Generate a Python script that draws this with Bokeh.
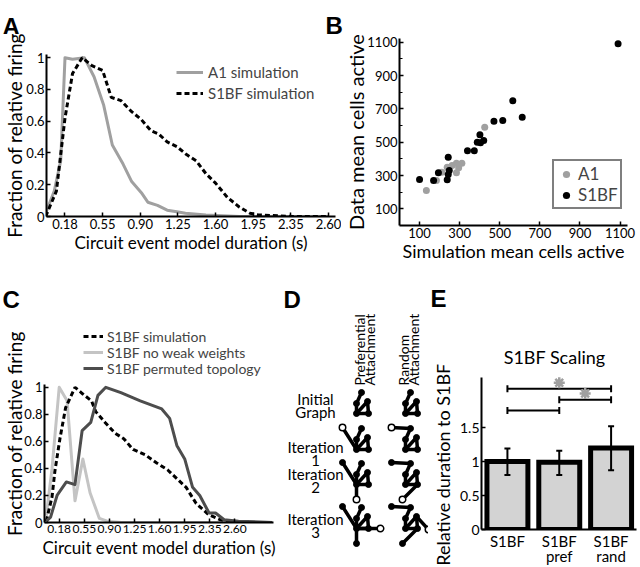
import math
from bokeh.plotting import figure
from bokeh.models import Range1d, FixedTicker, Legend, LegendItem
from bokeh.layouts import row, column
from bokeh.embed import file_html
from bokeh.resources import INLINE
from bokeh.core.properties import value

FONT = "Lato"
LETTER_FONT = "Liberation Sans"
NBSP = "\u00a0"

# ---------------- Panel A data ----------------
a1_dur = [0.00, 0.08, 0.14, 0.18, 0.25, 0.36, 0.45, 0.54, 0.62, 0.72, 0.80, 0.89, 0.95,
          1.04, 1.13, 1.22, 1.30, 1.49, 1.80, 2.20, 2.63]
a1_frac = [0.02, 0.16, 0.35, 1.00, 0.99, 1.00, 0.88, 0.70, 0.45, 0.33, 0.22, 0.15, 0.09,
           0.07, 0.04, 0.03, 0.02, 0.01, 0.00, 0.00, 0.00]
s1_dur = [0.00, 0.10, 0.18, 0.25, 0.34, 0.43, 0.53, 0.61, 0.70, 0.80, 0.89, 0.98, 1.05,
          1.13, 1.22, 1.31, 1.40, 1.49, 1.58, 1.69, 1.80, 1.90, 1.98, 2.30, 2.63]
s1_frac = [0.00, 0.16, 0.62, 0.90, 1.00, 0.95, 0.92, 0.75, 0.73, 0.66, 0.61, 0.54, 0.52,
           0.47, 0.44, 0.39, 0.35, 0.27, 0.21, 0.12, 0.06, 0.02, 0.01, 0.00, 0.00]

dur_ticks = [0.18, 0.53, 0.88, 1.23, 1.58, 1.93, 2.28, 2.63]
dur_labels = ["0.18", "0.55", "0.90", "1.25", "1.60", "1.95", "2.35", "2.60"]
frac_ticks = [0, 0.2, 0.4, 0.6, 0.8, 1.0]
frac_labels = ["0", "0.2", "0.4", "0.6", "0.8", "1"]

# ---------------- Panel B data ----------------
b_a1_sim = [134, 184, 211, 238, 262, 284, 284, 295, 311, 425]
b_a1_data = [210, 270, 320, 350, 360, 374, 316, 346, 374, 590]
b_s1_sim = [100, 170, 194, 238, 243, 248, 243, 339, 373, 388, 404, 401, 420, 471, 515,
            565, 612, 1090]
b_s1_data = [276, 270, 316, 274, 306, 330, 410, 448, 448, 500, 496, 544, 510, 626, 630,
             748, 650, 1090]
b_major = [100, 300, 500, 700, 900, 1100]
b_minor = [200, 400, 600, 800, 1000]

# ---------------- Panel C data ----------------
c_sim_dur = [0.00, 0.08, 0.12, 0.19, 0.27, 0.40, 0.51, 0.63, 0.69, 0.82, 0.96, 1.08, 1.21,
             1.38, 1.54, 1.69, 1.85, 1.95, 2.09, 2.26, 2.43, 2.60, 3.15]
c_sim_frac = [0.01, 0.19, 0.38, 0.62, 0.85, 1.00, 0.95, 0.90, 0.82, 0.74, 0.66, 0.62, 0.54,
              0.50, 0.44, 0.39, 0.31, 0.26, 0.14, 0.06, 0.02, 0.00, 0.00]
c_now_dur = [0.00, 0.08, 0.18, 0.29, 0.40, 0.51, 0.61, 0.74, 0.85, 1.05, 3.15]
c_now_frac = [0.05, 0.40, 1.00, 0.90, 0.16, 0.47, 0.22, 0.03, 0.01, 0.00, 0.00]
c_perm_dur = [0.00, 0.06, 0.15, 0.28, 0.40, 0.50, 0.62, 0.72, 0.83, 1.04, 1.31, 1.61, 1.72,
              1.82, 1.93, 2.04, 2.14, 2.27, 2.36, 2.48, 2.68, 3.15]
c_perm_frac = [0.01, 0.04, 0.20, 0.30, 0.28, 0.68, 0.74, 0.94, 1.00, 0.96, 0.90, 0.84, 0.77,
               0.57, 0.47, 0.26, 0.20, 0.07, 0.07, 0.02, 0.01, 0.00]

# ---------------- Panel D (schematic) data ----------------
row_label_top = ["Initial", "Iteration", "Iteration", "Iteration"]
row_label_bottom = ["Graph", "1", "2", "3"]
base_dx = [0, 12, 11, 0, 5]
base_dy = [0, 0, -12, -10, -21]
base_edges = [(4, 3), (3, 0), (0, 1), (1, 2), (2, 0)]
pref_add_dx = [-14, 0, 24]
pref_add_dy = [-22, 15, 0]
pref_add_to = [0, 0, 0]
rand_add_dx = [-14, -3, 23]
rand_add_dy = [-22, 15, 1]
rand_add_to = [4, 1, 2]

# ---------------- Panel E data ----------------
e_pos = [1, 2, 3]
e_labels = ["S1BF", "S1BF\npref", "S1BF\nrand"]
e_mean = [1.00, 0.99, 1.20]
e_lo = [0.80, 0.80, 0.87]
e_hi = [1.19, 1.16, 1.52]
sig_from = [1, 2, 1]
sig_to = [3, 3, 2]
sig_level = [2.07, 1.91, 1.75]
sig_star = [True, True, False]
e_ticks = [0, 0.5, 1, 1.5]
e_tick_labels = ["0", "0.5", "1", "1.5"]

# panel letters
letters = ["A", "B", "C", "D", "E"]


def no_align(p):
    try:
        p.frame_align = False
    except Exception:
        pass


def base_fig(width, height, xr, yr, left, right, top, bottom):
    p = figure(width=width, height=height, x_range=xr, y_range=yr,
               output_backend="svg", toolbar_location=None,
               min_border_left=left, min_border_right=right,
               min_border_top=top, min_border_bottom=bottom)
    no_align(p)
    p.outline_line_color = None
    p.grid.visible = False
    for ax in list(p.xaxis) + list(p.yaxis):
        ax.axis_line_width = 2
        ax.axis_line_color = "black"
        ax.major_tick_in = 4
        ax.major_tick_out = 0
        ax.minor_tick_in = 0
        ax.minor_tick_out = 0
        ax.major_tick_line_width = 1.5
        ax.major_tick_line_color = "black"
        ax.major_label_text_font = FONT
        ax.major_label_text_font_size = "13px"
        ax.major_label_text_color = "black"
        ax.major_label_standoff = 2
        ax.axis_label_text_font = FONT
        ax.axis_label_text_font_style = "normal"
        ax.axis_label_text_color = "black"
    return p


def blank_fig(width, height, x0, x1, ytop, ybottom):
    p = figure(width=width, height=height, x_range=Range1d(x0, x1),
               y_range=Range1d(ybottom, ytop), output_backend="svg", toolbar_location=None,
               x_axis_location=None, y_axis_location=None,
               min_border_left=0, min_border_right=0, min_border_top=0, min_border_bottom=0)
    no_align(p)
    p.outline_line_color = None
    p.grid.visible = False
    return p


def add_letters(p, xs, ys, texts):
    p.text(x=xs, y=ys, text=texts, text_font=value(LETTER_FONT), text_font_size="24px",
           text_font_style="bold", text_baseline="alphabetic", text_align="left",
           text_color="black")


# ================= strip with letters A, B =================
stripTop = blank_fig(640, 34, 0, 640, 0, 34)
add_letters(stripTop, [2, 325], [26, 25], letters[0:2])

# ================= Panel A =================
pA = base_fig(341, 236, Range1d(0.008, 2.695), Range1d(0, 1.02), 43, 6, 20, 54)
la1 = pA.line(a1_dur, a1_frac, line_color="#a0a0a0", line_width=3, line_join="round")
ls1 = pA.line(s1_dur, s1_frac, line_color="black", line_width=3, line_dash="5 3")
pA.xaxis.ticker = FixedTicker(ticks=dur_ticks)
pA.xaxis.major_label_overrides = dict(zip(dur_ticks, dur_labels))
pA.yaxis.ticker = FixedTicker(ticks=frac_ticks)
pA.yaxis.major_label_overrides = dict(zip(frac_ticks, frac_labels))
pA.xaxis.axis_label = "Circuit event model duration (s)"
pA.xaxis.axis_label_text_font_size = "17px"
pA.xaxis.axis_label_standoff = 0
pA.yaxis.axis_label = "Fraction of relative firing"
pA.yaxis.axis_label_text_font_size = "19px"
pA.yaxis.axis_label_standoff = -3
legA = Legend(items=[LegendItem(label="A1 simulation", renderers=[la1]),
                     LegendItem(label="S1BF simulation", renderers=[ls1])],
              location=(130, 113), padding=0, margin=0, spacing=1,
              glyph_width=27, glyph_height=20, label_height=20, label_standoff=5,
              label_text_font=FONT, label_text_font_size="15px",
              border_line_color=None, background_fill_alpha=0)
pA.add_layout(legA)

# ================= Panel B =================
pB = base_fig(299, 236, Range1d(0, 1137), Range1d(0, 1122), 53, 13, 4, 45)
rb_a1 = pB.scatter(b_a1_sim, b_a1_data, size=7, fill_color="#a0a0a0", line_color=None)
rb_s1 = pB.scatter(b_s1_sim, b_s1_data, size=7, fill_color="black", line_color=None)
pB.xaxis.ticker = FixedTicker(ticks=b_major)
pB.yaxis.ticker = FixedTicker(ticks=b_major, minor_ticks=b_minor)
pB.yaxis.minor_tick_in = 3
pB.xaxis.axis_label = "Simulation mean cells active"
pB.xaxis.axis_label_text_font_size = "18px"
pB.xaxis.axis_label_standoff = -1
pB.yaxis.axis_label = "Data mean cells active"
pB.yaxis.axis_label_text_font_size = "20px"
pB.yaxis.axis_label_standoff = -4
legB = Legend(items=[LegendItem(label="A1", renderers=[rb_a1]),
                     LegendItem(label="S1BF", renderers=[rb_s1])],
              location=(153, 16), padding=2, margin=0, spacing=0,
              glyph_width=20, glyph_height=18, label_height=18, label_standoff=2,
              label_text_font=FONT, label_text_font_size="17px",
              border_line_color="black", border_line_width=2,
              background_fill_color="white", background_fill_alpha=1)
pB.add_layout(legB)

# ================= strip with letters C, D, E =================
stripMid = blank_fig(640, 40, 0, 640, 270, 310)
add_letters(stripMid, [2, 283, 430], [299, 299, 298], letters[2:5])

# ================= Panel C =================
pC = base_fig(280, 257, Range1d(-0.025, 3.168), Range1d(0, 1.494), 39, 7, 10, 45)
rc_sim = pC.line(c_sim_dur, c_sim_frac, line_color="black", line_width=3, line_dash="5 3")
rc_now = pC.line(c_now_dur, c_now_frac, line_color="#c4c4c4", line_width=3, line_join="round")
rc_perm = pC.line(c_perm_dur, c_perm_frac, line_color="#4d4d4d", line_width=3, line_join="round")
pC.renderers = [rc_now, rc_sim, rc_perm]
pC.xaxis.ticker = FixedTicker(ticks=dur_ticks)
pC.xaxis.major_label_overrides = dict(zip(dur_ticks, dur_labels))
pC.xaxis.major_label_text_font_size = "12px"
pC.yaxis.ticker = FixedTicker(ticks=frac_ticks)
pC.yaxis.major_label_overrides = dict(zip(frac_ticks, frac_labels))
pC.yaxis.bounds = (0, 1.02)
pC.xaxis.axis_label = "Circuit event model duration (s)"
pC.xaxis.axis_label_text_font_size = "17px"
pC.xaxis.axis_label_standoff = 1
# trailing no-break spaces move the visible label down towards the drawn axis
pC.yaxis.axis_label = "Fraction of relative firing" + NBSP * 5
pC.yaxis.axis_label_text_font_size = "19px"
pC.yaxis.axis_label_standoff = -5
for lab, rend, vy in [("S1BF simulation", rc_sim, 176.7),
                      ("S1BF no weak weights", rc_now, 160.7),
                      ("S1BF permuted topology", rc_perm, 144.7)]:
    pC.add_layout(Legend(items=[LegendItem(label=lab, renderers=[rend])],
                         location=(39, vy), padding=0, margin=0, spacing=0,
                         glyph_width=20, glyph_height=18, label_height=18, label_standoff=4,
                         label_text_font=FONT, label_text_font_size="14px",
                         border_line_color=None, background_fill_alpha=0))

# ================= Panel D =================
pD = blank_fig(148, 257, 280, 428, 310, 567)
label_x = 315
top_y = [398, 446, 473, 518]
bot_y = [411, 460, 487, 532]
pD.text(x=[label_x] * 4, y=top_y, text=row_label_top, text_align="center",
        text_baseline="middle", text_font=value(FONT), text_font_size="15px", text_color="black")
pD.text(x=[label_x] * 4, y=bot_y, text=row_label_bottom, text_align="center",
        text_baseline="middle", text_font=value(FONT), text_font_size="15px", text_color="black")
pD.text(x=[359, 369, 402.5, 413], y=[385] * 4,
        text=["Preferential", "Attachment", "Random", "Attachment"],
        angle=math.pi / 2, text_align="left", text_baseline="middle",
        text_font=value(FONT), text_font_size="14px", text_color="black")

col_x = [356, 405]
row_y = [413, 449, 484, 528]
seg_x0, seg_y0, seg_x1, seg_y1 = [], [], [], []
dot_x, dot_y, open_x, open_y = [], [], [], []
for ci, (adx, ady, ato) in enumerate([(pref_add_dx, pref_add_dy, pref_add_to),
                                      (rand_add_dx, rand_add_dy, rand_add_to)]):
    for it in range(4):
        hx, hy = col_x[ci], row_y[it]
        nx = [hx + d for d in base_dx] + [hx + d for d in adx[:it]]
        ny = [hy + d for d in base_dy] + [hy + d for d in ady[:it]]
        edges = list(base_edges) + [(5 + k, ato[k]) for k in range(it)]
        for a, b in edges:
            seg_x0.append(nx[a]); seg_y0.append(ny[a])
            seg_x1.append(nx[b]); seg_y1.append(ny[b])
        for k in range(len(nx)):
            if it > 0 and k == len(nx) - 1:
                open_x.append(nx[k]); open_y.append(ny[k])
            else:
                dot_x.append(nx[k]); dot_y.append(ny[k])
pD.segment(seg_x0, seg_y0, seg_x1, seg_y1, line_color="black", line_width=3.5, line_cap="round")
pD.scatter(dot_x, dot_y, size=6, fill_color="black", line_color="black")
pD.scatter(open_x, open_y, size=6.5, fill_color="white", line_color="black", line_width=1.5)

# ================= Panel E =================
pE = base_fig(212, 257, Range1d(0.5, 3.49), Range1d(0, 2.78), 49, 4, 30, 35)
pE.vbar(x=e_pos, top=e_mean, width=0.79, bottom=0, fill_color="#d3d3d3",
        line_color="black", line_width=5, line_join="miter")
pE.segment(x0=e_pos, y0=e_lo, x1=e_pos, y1=e_hi, line_color="black", line_width=2)
pE.scatter(x=e_pos + e_pos, y=e_lo + e_hi, marker="dash", size=6, line_color="black", line_width=2)
pE.segment(x0=sig_from, y0=sig_level, x1=sig_to, y1=sig_level, line_color="black", line_width=2)
pE.scatter(x=sig_from + sig_to, y=sig_level + sig_level, marker="dash", angle=math.pi / 2,
           size=7, line_color="black", line_width=2)
star_x = [(a + b) / 2 for a, b, s in zip(sig_from, sig_to, sig_star) if s]
star_y = [lv + 0.09 for lv, s in zip(sig_level, sig_star) if s]
pE.scatter(x=star_x, y=star_y, marker="asterisk", size=11, line_color="#a0a0a0", line_width=2.5)
pE.text(x=[1.91], y=[2.54], text=["S1BF Scaling"], text_align="center", text_baseline="middle",
        text_font=value(FONT), text_font_size="18px", text_color="black")
pE.xaxis.ticker = FixedTicker(ticks=e_pos)
pE.xaxis.major_label_overrides = dict(zip(e_pos, e_labels))
pE.xaxis.major_tick_in = 0
pE.xaxis.major_label_text_font_size = "15px"
pE.xaxis.major_label_text_line_height = 0.85
pE.xaxis.major_label_standoff = 2
pE.yaxis.ticker = FixedTicker(ticks=e_ticks)
pE.yaxis.major_label_overrides = dict(zip(e_ticks, e_tick_labels))
pE.yaxis.major_label_text_font_size = "14px"
pE.yaxis.bounds = (0, 2.23)
pE.yaxis.axis_label = "Relative duration to S1BF" + NBSP * 13
pE.yaxis.axis_label_text_font_size = "18px"
pE.yaxis.axis_label_standoff = 3

layout = column(stripTop, row(pA, pB), stripMid, row(pC, pD, pE))
open("out.html", "w").write(file_html(layout, INLINE, "chart"))
